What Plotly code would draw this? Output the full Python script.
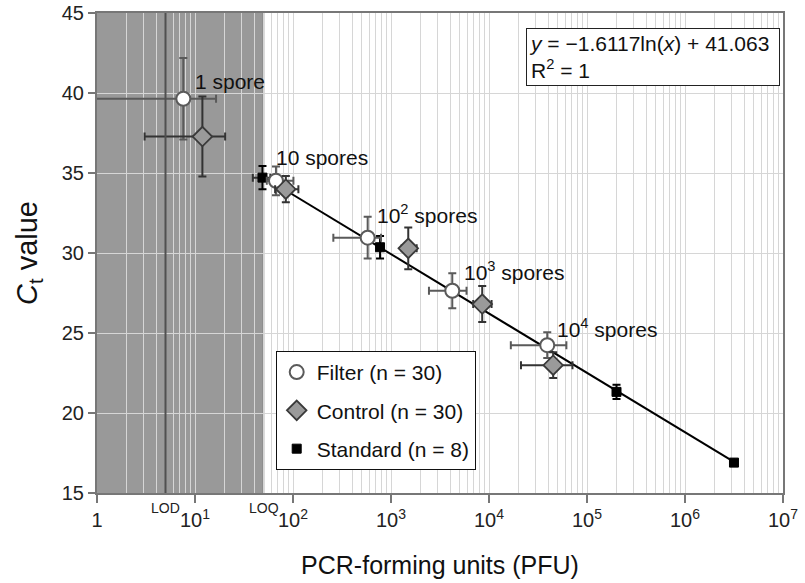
import math
import plotly.graph_objects as go

# ---------------- data ----------------
filter_x = [7.6, 67, 578, 4220, 39300]
filter_y = [39.64, 34.51, 30.96, 27.64, 24.24]
filter_x_minus = [6.7, 13, 320, 1780, 22600]
filter_x_plus = [8.8, 34, 213, 1680, 22300]
filter_y_err = [2.55, 0.9, 1.3, 1.1, 0.8]

control_x = [11.9, 84.5, 1500, 8530, 45200]
control_y = [37.28, 33.99, 30.29, 26.81, 22.99]
control_x_minus = [8.84, 18.8, 215, 1630, 24000]
control_x_plus = [8.4, 29, 328, 2090, 25900]
control_y_err = [2.5, 0.82, 1.3, 1.12, 0.8]

standard_x = [48.8, 773, 200000, 3160000]
standard_y = [34.71, 30.36, 21.32, 16.9]
standard_x_err = [9.9, 0, 0, 0]
standard_y_err = [0.73, 0.7, 0.45, 0.0]

fit_slope = -1.6117
fit_intercept = 41.063

lod_value = 5
loq_value = 50

x_tick_vals = [1, 10, 100, 1000, 10000, 100000, 1000000, 10000000]
x_tick_text = ["1", "10<sup>1</sup>", "10<sup>2</sup>", "10<sup>3</sup>", "10<sup>4</sup>",
               "10<sup>5</sup>", "10<sup>6</sup>", "10<sup>7</sup>"]
y_tick_vals = [15, 20, 25, 30, 35, 40, 45]

spore_labels = ["1 spore", "10 spores", "10<sup>2</sup> spores", "10<sup>3</sup> spores", "10<sup>4</sup> spores"]

FONT = "Liberation Sans, Arial, Helvetica, sans-serif"

fig = go.Figure()

# trend line from the fit coefficients
fit_x = [min(standard_x), max(standard_x)]
fit_y = [fit_slope * math.log(v) + fit_intercept for v in fit_x]
fig.add_trace(go.Scatter(x=fit_x, y=fit_y, mode="lines", line=dict(color="black", width=2),
                         showlegend=False, hoverinfo="skip"))

fig.add_trace(go.Scatter(
    x=standard_x, y=standard_y, mode="markers", name="Standard (n = 8)",
    marker=dict(symbol="square", size=9, color="black", line=dict(color="black", width=1)),
    error_y=dict(type="data", array=standard_y_err, color="black", thickness=2, width=4),
    error_x=dict(type="data", array=standard_x_err, color="#333", thickness=2, width=4),
    legendgroup="c", legendrank=3))

fig.add_trace(go.Scatter(
    x=filter_x, y=filter_y, mode="markers", name="Filter (n = 30)",
    marker=dict(symbol="circle", size=14, color="white", line=dict(color="#5a5a5a", width=2)),
    error_y=dict(type="data", array=filter_y_err, color="#5a5a5a", thickness=2, width=4),
    error_x=dict(type="data", symmetric=False, array=filter_x_plus, arrayminus=filter_x_minus,
                 color="#5a5a5a", thickness=2, width=4),
    legendgroup="a", legendrank=1))

fig.add_trace(go.Scatter(
    x=control_x, y=control_y, mode="markers", name="Control (n = 30)",
    marker=dict(symbol="diamond", size=15, color="#9a9a9a", line=dict(color="#3a3a3a", width=1.8)),
    error_y=dict(type="data", array=control_y_err, color="#333333", thickness=2, width=4),
    error_x=dict(type="data", symmetric=False, array=control_x_plus, arrayminus=control_x_minus,
                 color="#333333", thickness=2, width=4),
    legendgroup="b", legendrank=2))

minor_vals = [m * 10 ** k for k in range(7) for m in range(2, 10)]

shapes = [
    dict(type="rect", xref="x", yref="paper", x0=0.5, x1=loq_value, y0=0, y1=1,
         fillcolor="rgba(0,0,0,0.4)", line=dict(width=0), layer="between"),
    dict(type="line", xref="x", yref="paper", x0=loq_value, x1=loq_value,
         y0=0, y1=1, line=dict(color="#707070", width=1.5), layer="between"),
    dict(type="line", xref="x", yref="paper", x0=lod_value, x1=lod_value,
         y0=0, y1=1, line=dict(color="#505050", width=2), layer="above"),
]

annotations = []
label_pos = [(0.975, 40.75), (1.81, 35.98), (2.84, 32.45), (3.725, 28.85), (4.675, 25.3)]
for txt, (lx, ly) in zip(spore_labels, label_pos):
    annotations.append(dict(x=lx, y=ly, xref="x", yref="y", text=txt, showarrow=False,
                            xanchor="left", yanchor="middle", font=dict(size=21, color="#111")))

annotations.append(dict(x=math.log10(lod_value), y=-0.032, xref="x", yref="paper", text="LOD",
                        showarrow=False, xanchor="center", yanchor="middle",
                        font=dict(size=14, color="#222")))
annotations.append(dict(x=math.log10(loq_value), y=-0.032, xref="x", yref="paper", text="LOQ",
                        showarrow=False, xanchor="center", yanchor="middle",
                        font=dict(size=14, color="#222")))
annotations.append(dict(x=0.9955, y=0.9695, xref="paper", yref="paper",
                        text="<i>y</i> = \u22121.6117ln(<i>x</i>) + 41.063<br>R<sup>2</sup> = 1",
                        showarrow=False, xanchor="right", yanchor="top", align="left",
                        width=248, height=52,
                        bordercolor="#222", borderwidth=1, borderpad=2, bgcolor="white",
                        font=dict(size=21, color="#111")))

fig.update_layout(
    width=805, height=583,
    margin=dict(l=97, r=22, t=13, b=90, autoexpand=False),
    paper_bgcolor="white", plot_bgcolor="white",
    font=dict(family=FONT, size=20, color="#222"),
    showlegend=True,
    legend=dict(x=0.2605, y=0.296, xanchor="left", yanchor="top", bgcolor="white",
                bordercolor="#111", borderwidth=1, font=dict(size=21, color="#111"),
                traceorder="grouped", tracegroupgap=8, itemsizing="trace"),
    shapes=shapes, annotations=annotations,
)

fig.update_xaxes(
    type="log", range=[0, 7], tickmode="array", tickvals=x_tick_vals, ticktext=x_tick_text,
    automargin=False,
    showgrid=True, gridcolor="#d6d6d6", gridwidth=1,
    minor=dict(tickmode="array", tickvals=minor_vals, showgrid=True, gridcolor="#d6d6d6", ticks=""),
    showline=True, linecolor="#777", linewidth=2, mirror=True,
    ticks="outside", ticklen=8, tickcolor="#777", tickwidth=1.5,
    tickfont=dict(size=20, color="#222"),
    title=dict(text="PCR-forming units (PFU)", font=dict(size=25, color="#111"), standoff=26),
    zeroline=False,
)
fig.update_yaxes(
    range=[15, 45], tickmode="array", tickvals=y_tick_vals,
    automargin=False,
    showgrid=True, gridcolor="#d6d6d6", gridwidth=1,
    showline=True, linecolor="#777", linewidth=2, mirror=True,
    ticks="outside", ticklen=7, tickcolor="#777", tickwidth=1.5,
    tickfont=dict(size=20, color="#222"),
    title=dict(text="<i>C</i><sub>t</sub> value", font=dict(size=29, color="#111"), standoff=16),
    zeroline=False,
)

fig.write_html("out.html", config={"displayModeBar": False},
               post_script="document.body.style.margin='0';document.body.style.overflow='hidden';")
